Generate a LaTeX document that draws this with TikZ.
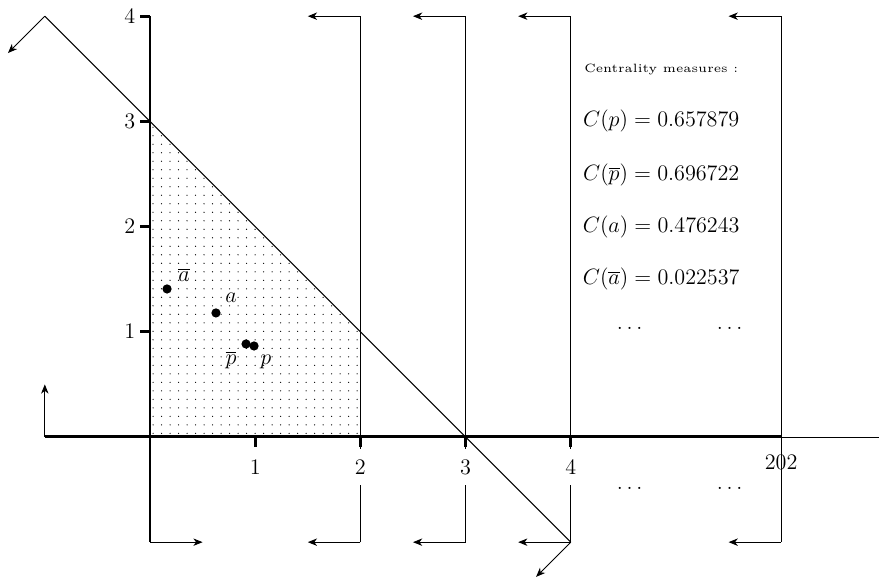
\documentclass[tikz,border=0pt]{standalone}
\usetikzlibrary{arrows.meta,patterns.meta}
\begin{document}
\begin{tikzpicture}[x=2cm,y=2cm,
  thinline/.style={line width=0.5pt},
  axis/.style={line width=1.6pt},
  tickmark/.style={line width=1.6pt},
  arr/.style={line width=0.5pt,-{Stealth[length=5pt,width=4pt,inset=1.5pt]}},
  lab/.style={font=\fontsize{11.6}{14}\selectfont, inner sep=1pt},
  small/.style={inner sep=1pt},
  dotpt/.style={circle,fill,inner sep=0pt,minimum size=5pt}]
\useasboundingbox (-1.426,-1.340) rectangle (6.93,4.154);
% key coordinates
\coordinate (O) at (0,0);
\coordinate (Ytop) at (0,4);
\coordinate (Ybot) at (0,-1);
\coordinate (Ybotarr) at (0.5,-1);
\coordinate (Xleft) at (-1,0);
\coordinate (Xleftarr) at (-1,0.5);
\coordinate (X6) at (6,0);
\coordinate (Xright) at (6.93,0);
\coordinate (Dtop) at (-1,4);
\coordinate (Dbot) at (4,-1);
\coordinate (Dtoparr) at (-1.35,3.65);
\coordinate (Dbotarr) at (3.67,-1.33);
% shaded region
\fill[pattern={Dots[distance=4.6pt,radius=0.35pt]}] (0,0) -- (0,3) -- (2,1) -- (2,0) -- cycle;
% vertical lines with arrows
\foreach \k in {2,3,4,6}{
  \coordinate (T\k) at (\k,4);
  \coordinate (B\k) at (\k,-1);
  \coordinate (TA\k) at (\k-0.5,4);
  \coordinate (BA\k) at (\k-0.5,-1);
  \draw[thinline] (T\k) -- (B\k);
  \draw[arr] (T\k) -- (TA\k);
  \draw[arr] (B\k) -- (BA\k);
}
% diagonal
\draw[thinline] (Dtop) -- (Dbot);
\draw[arr] (Dtop) -- (Dtoparr);
\draw[arr] (Dbot) -- (Dbotarr);
% axes
\draw[axis] (Xleft) -- (X6);
\draw[thinline] (X6) -- (Xright);
\draw[axis] (Ytop) -- (Ybot);
\draw[arr] (Xleft) -- (Xleftarr);
\draw[arr] (Ybot) -- (Ybotarr);
% ticks
\foreach \k in {1,2,3,4}{
  \draw[tickmark] (0,\k) -- (-0.095,\k);
  \node[lab,anchor=east] (ylab\k) at (-0.12,\k) {$\k$};
  \draw[tickmark] (\k,0) -- (\k,-0.095);
  \node[lab,fill=white,inner ysep=6pt,anchor=north] (xlab\k) at (\k,-0.11) {$\k$};
}
\node[lab] (xlab202) at (6,-0.24) {$202$};
% points
\node[dotpt] (abar) at (0.162,1.407) {};
\node[dotpt] (a) at (0.627,1.179) {};
\node[dotpt] (pbar) at (0.913,0.884) {};
\node[dotpt] (p) at (0.989,0.865) {};
\node[lab] (abarlab) at (0.323,1.54) {$\overline{a}$};
\node[lab] (alab) at (0.77,1.32) {$a$};
\node[lab] (pbarlab) at (0.77,0.73) {$\overline{p}$};
\node[lab] (plab) at (1.10,0.71) {$p$};
% centrality text
\node[small] (title) at (4.86,3.49) {\scalebox{1.3}{\fontsize{5}{6}\selectfont Centrality measures :}};
\node[lab] (cp) at (4.86,3.0) {$C(p) = 0.657879$};
\node[lab] (cpbar) at (4.86,2.49) {$C(\overline{p}) = 0.696722$};
\node[lab] (ca) at (4.86,2.0) {$C(a) = 0.476243$};
\node[lab] (cabar) at (4.86,1.5) {$C(\overline{a}) = 0.022537$};
\node[lab] (d1) at (4.56,1.03) {$\ldots$};
\node[lab] (d2) at (5.51,1.03) {$\ldots$};
\node[lab] (d3) at (4.56,-0.49) {$\ldots$};
\node[lab] (d4) at (5.51,-0.49) {$\ldots$};
\end{tikzpicture}
\end{document}
